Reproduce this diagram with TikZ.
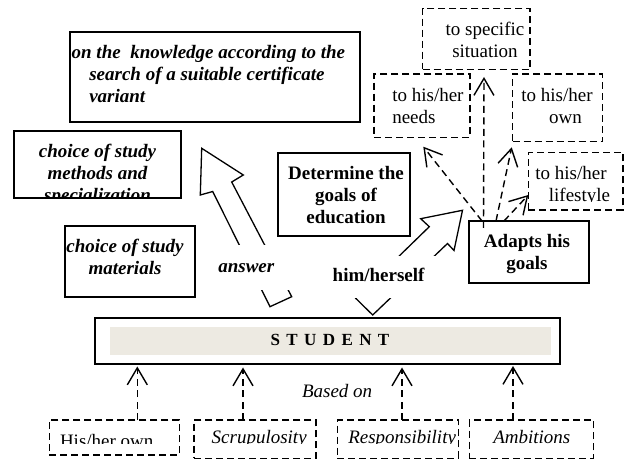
\documentclass[tikz,border=0pt]{standalone}
\usepackage{fontspec}
\setmainfont{Liberation Serif}
\usetikzlibrary{arrows.meta}
\definecolor{paleband}{HTML}{EDEAE2}
\tikzset{
  txtr/.style={font=\fontsize{19}{22}\selectfont},
  txti/.style={font=\fontsize{19}{22}\selectfont\itshape},
  txtb/.style={font=\fontsize{19}{22}\selectfont\bfseries},
  txtbi/.style={font=\fontsize{19}{22}\selectfont\bfseries\itshape},
  solidbox/.style={draw, line width=2pt, anchor=north west},
  dashbox/.style={draw, line width=1.5pt, dash pattern=on 7pt off 4pt, anchor=north west},
  dasharrow/.style={line width=1.4pt, dash pattern=on 7pt off 4.5pt,
     -{Straight Barb[length=17pt,width=20pt]}},
  bigarrow/.style={line width=1.3pt, line join=miter},
}
\begin{document}
\begin{tikzpicture}[x=1pt,y=-1pt, every node/.style={inner sep=0pt, outer sep=0pt}]
\useasboundingbox (0,0) rectangle (624,462);

% solid boxes
\node[solidbox, minimum width=290pt, minimum height=90pt] (know) at (70,31.7) {};
\node[solidbox, minimum width=167pt, minimum height=67.6pt] (methods) at (14,130.7) {};
\node[solidbox, minimum width=130pt, minimum height=71pt] (materials) at (65,226) {};
\node[solidbox, minimum width=132.3pt, minimum height=83.3pt] (determine) at (277.7,152.7) {};
\node[solidbox, minimum width=120pt, minimum height=62.3pt] (adapts) at (469.3,221) {};
\node[solidbox, minimum width=465.3pt, minimum height=45.7pt] (student) at (95,318.3) {};
\fill[paleband] (110,327.3) rectangle (551,355);

% dashed boxes
\node[dashbox, minimum width=107.3pt, minimum height=61pt] (specific) at (422.7,8.3) {};
\node[dashbox, minimum width=96pt, minimum height=63.3pt] (needs) at (374,74) {};
\node[dashbox, minimum width=90pt, minimum height=67.7pt] (own) at (512.7,74) {};
\node[dashbox, minimum width=94.5pt, minimum height=57.3pt] (life) at (528.3,152.7) {};
\node[dashbox, minimum width=130pt, minimum height=35pt] (hisown) at (49.3,420) {};
\node[dashbox, minimum width=122pt, minimum height=38.3pt] (scrup) at (194,420) {};
\node[dashbox, minimum width=121pt, minimum height=38.3pt] (resp) at (337.3,420) {};
\node[dashbox, minimum width=124pt, minimum height=38.3pt] (ambi) at (469.3,420) {};

% texts (base anchor = baseline of last line)
\node[txtbi, align=left, anchor=base west] (knowtxt) at (89.3,102.5)
  {\hspace*{-17.6pt}on the\ \ knowledge according to the\\search of a suitable certificate\\variant};
\begin{scope}
  \clip (14,130.7) rectangle (181,197.3);
  \node[txtbi, align=center, anchor=base] (methodstxt) at (97.5,201.7)
    {choice of study\\methods and\\specialization};
\end{scope}
\node[txtbi, align=center, anchor=base] (materialstxt) at (125,275) {choice of study\\materials};
\node[txtb, align=center, anchor=base] (determinetxt) at (346,224) {Determine the\\goals of\\education};
\node[txtb, align=center, anchor=base] (adaptstxt) at (527,270) {Adapts his\\goals};
\node[font=\fontsize{17}{20}\selectfont\bfseries, anchor=base] (studenttxt) at (330,345.7)
  {S\hspace{6.4pt}T\hspace{6.4pt}U\hspace{6.4pt}D\hspace{6.4pt}E\hspace{6.4pt}N\hspace{6.4pt}T};
\node[txtr, align=center, anchor=base] (specifictxt) at (485,57.3) {to specific\\situation};
\node[txtr, align=left, anchor=base west] (needstxt) at (392.3,123.3) {to his/her\\needs};
\node[txtr, align=center, anchor=base] (owntxt) at (557,123.3) {to his/her\\\hspace*{17pt}own};
\begin{scope}
  \clip (528.3,152.7) rectangle (623,201.7);
  \node[txtr, align=center, anchor=base] (lifetxt) at (571,201.5) {to his/her\\\hspace*{17pt}lifestyle};
\end{scope}
\begin{scope}
  \clip (49.3,420) rectangle (179.3,443.5);
  \node[txtr, anchor=base west] (hisowntxt) at (60,447) {His/her own};
\end{scope}
\begin{scope}
  \clip (194,420) rectangle (316,443.3);
  \node[txti, anchor=base west] (scruptxt) at (211.7,443.6) {Scrupulosity};
\end{scope}
\begin{scope}
  \clip (337.3,420) rectangle (458.3,443.3);
  \node[txti, anchor=base west] (resptxt) at (348.3,443.6) {Responsibility};
\end{scope}
\node[txti, anchor=base west] (ambitxt) at (493.3,443.6) {Ambitions};
\node[txti, anchor=base west] (basedon) at (302,397) {Based on};

% big hollow arrows
\draw[bigarrow] (201.7,148.3) -- (243.3,175) -- (231.7,182) -- (291.7,296.7) -- (270,306.7)
   -- (212.7,191.5) -- (200.3,195) -- cycle;
\fill[white] (215,245) rectangle (294,289.8);
\node[txtbi, anchor=base west] (answer) at (218.3,272.5) {answer};
\draw[bigarrow] (372.7,315) -- (355.7,298.3) -- (429.3,226.7) -- (420.7,218.7) -- (462.5,210.3)
   -- (454,250.5) -- (447.5,243.5) -- cycle;
\fill[white] (330,256) rectangle (436,298);
\node[txtb, anchor=base west] (himself) at (332.7,281.7) {him/herself};

% dashed arrows to STUDENT
\coordinate (s1) at (137.3,366.5);
\coordinate (s2) at (243,367.5);
\coordinate (s3) at (402,367.5);
\coordinate (s4) at (513,366);
\draw[dasharrow] (hisown.north -| s1) -- (s1);
\draw[dasharrow] (scrup.north -| s2) -- (s2);
\draw[dasharrow] (resp.north -| s3) -- (s3);
\draw[dasharrow] (ambi.north -| s4) -- (s4);

% dashed arrows from Adapts
\coordinate (tneeds) at (423.3,146.7);
\coordinate (tspec) at (484,77);
\coordinate (town) at (511.7,147.3);
\coordinate (tlife) at (528.3,195);
\coordinate (sneeds) at (482,221);
\coordinate (sspec) at (483.5,228);
\coordinate (sown) at (496,221);
\coordinate (slife) at (504,221);
\draw[dasharrow] (sneeds) -- (tneeds);
\draw[dasharrow] (sspec) -- (tspec);
\draw[dasharrow] (sown) -- (town);
\draw[dasharrow] (slife) -- (tlife);
\end{tikzpicture}
\end{document}
